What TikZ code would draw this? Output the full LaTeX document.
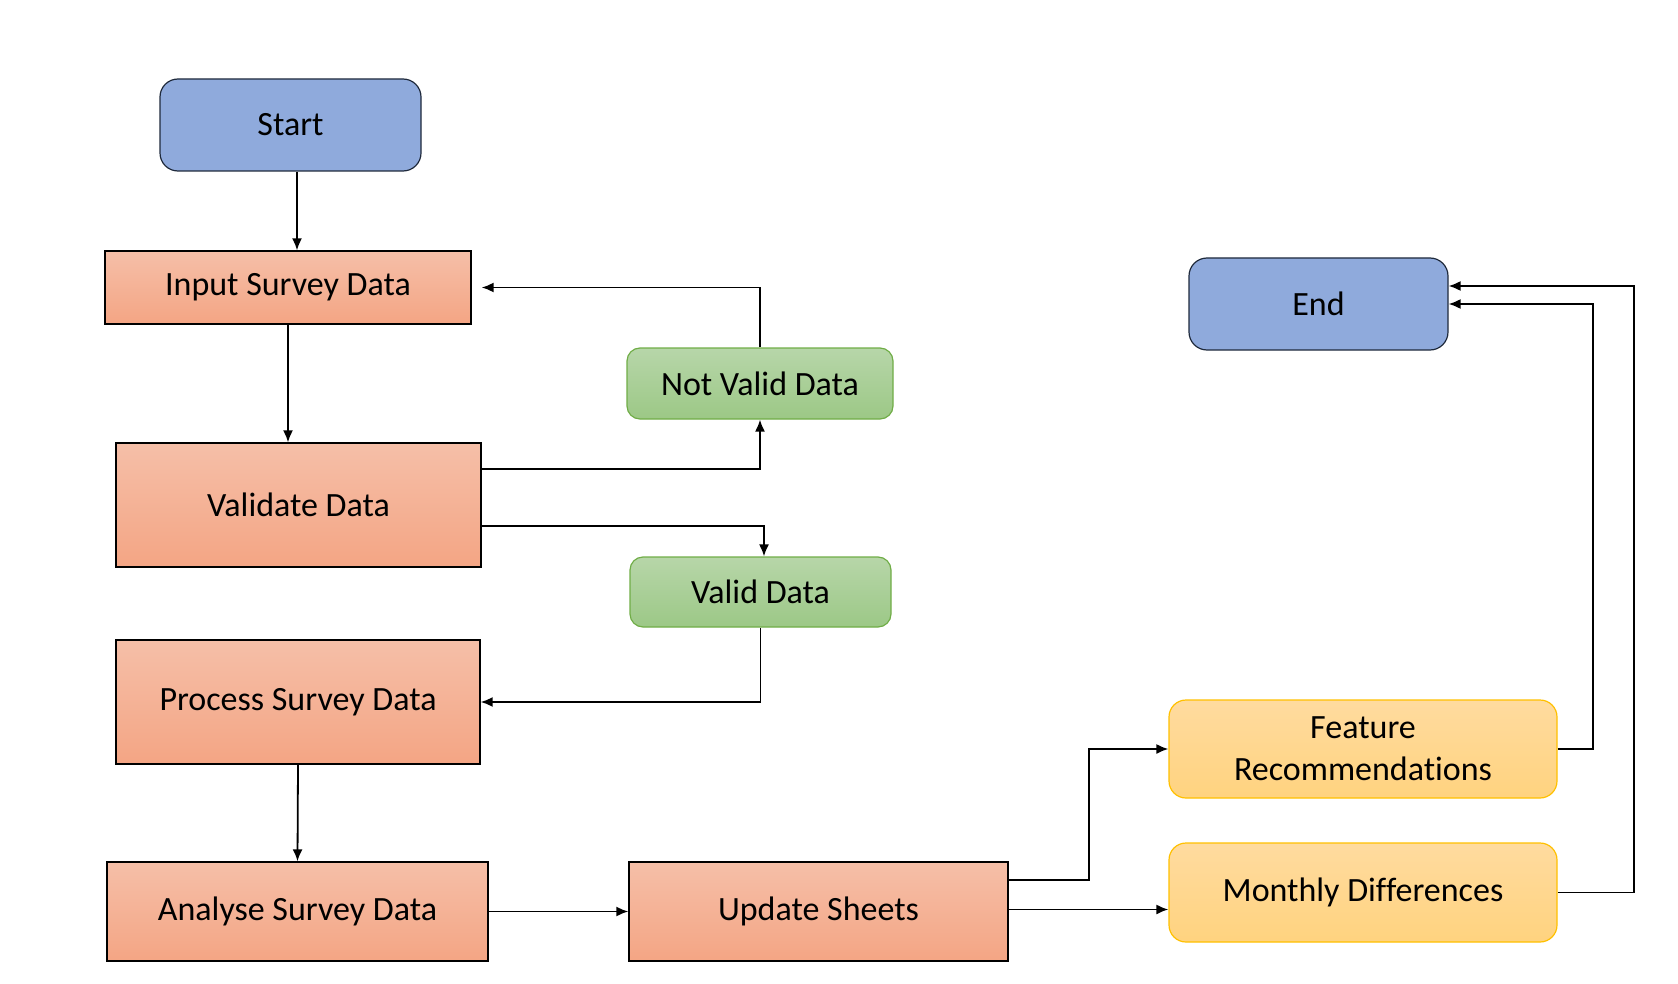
\documentclass[tikz,border=0pt]{standalone}
\usepackage{fontspec}
\setmainfont{Carlito}[Ligatures={NoCommon,NoRare,NoContextual}]
\usetikzlibrary{arrows.meta,calc}
\definecolor{bluefill}{HTML}{8FAADC}
\definecolor{blueline}{HTML}{1F2A3C}
\definecolor{orTop}{HTML}{F5BFA8}
\definecolor{orBot}{HTML}{F4A584}
\definecolor{grTop}{HTML}{B7D6A9}
\definecolor{grBot}{HTML}{9CC886}
\definecolor{grLine}{HTML}{70AD47}
\definecolor{yeTop}{HTML}{FFDB9F}
\definecolor{yeBot}{HTML}{FFD37F}
\definecolor{yeLine}{HTML}{FFC000}
\tikzset{
  box/.style={inner sep=0pt, align=center, font=\fontsize{34}{42}\selectfont},
  termbox/.style={box, rounded corners=18pt, fill=bluefill, draw=blueline, line width=1.2pt},
  procbox/.style={box, top color=orTop, bottom color=orBot, draw=black, line width=1.3pt},
  databox/.style={box, rounded corners=13pt, top color=grTop, bottom color=grBot, draw=grLine, line width=1.2pt},
  outbox/.style={box, rounded corners=17pt, top color=yeTop, bottom color=yeBot, draw=yeLine, line width=1.2pt},
  arr/.style={line width=1.8pt, -{Latex[length=12pt,width=10pt]}}
}
\begin{document}
\begin{tikzpicture}[x=1pt,y=-1pt]
\useasboundingbox (0,0) rectangle (1678,984);
\node[termbox, minimum width=261pt, minimum height=92pt] (start) at (290.5,125) {Start};
\node[procbox, minimum width=366pt, minimum height=73pt] (input) at (288,287.5) {Input Survey Data};
\node[procbox, minimum width=365pt, minimum height=124pt] (validate) at (298.5,505) {Validate Data};
\node[procbox, minimum width=364pt, minimum height=124pt] (process) at (298,702) {Process Survey Data};
\node[procbox, minimum width=381pt, minimum height=99pt] (analyse) at (297.5,911.5) {Analyse Survey Data};
\node[procbox, minimum width=379pt, minimum height=99pt] (update) at (818.5,911.5) {Update Sheets};
\node[databox, minimum width=266pt, minimum height=71pt] (notvalid) at (760,383.5) {Not Valid Data};
\node[databox, minimum width=261pt, minimum height=70pt] (valid) at (760.5,592) {Valid Data};
\node[termbox, minimum width=259pt, minimum height=92pt] (end) at (1318.5,304) {End};
\node[outbox, minimum width=388pt, minimum height=98pt] (feature) at (1363,749) {Feature\\Recommendations};
\node[outbox, minimum width=388pt, minimum height=99pt] (monthly) at (1363,892.5) {Monthly Differences};

\draw[arr] ([xshift=6.5pt]start.south) -- ([xshift=9pt]input.north);
\draw[arr] (input.south) -- (input.south |- validate.north);
\draw[arr] ([yshift=36pt]validate.east) -| (notvalid.south);
\draw[arr, shorten >=10pt] (notvalid.north) |- (input.east);
\draw[arr] ([yshift=-21pt]validate.east) -| ([xshift=3.5pt]valid.north);
\draw[arr] (valid.south) |- (process.east);
\draw[arr] (process.south) -- (analyse.north);
\draw[arr] (analyse.east) -- (update.west);
\draw[arr] ([yshift=31.5pt]update.east) -- ++(80,0) |- (feature.west);
\draw[arr] ([yshift=2pt]update.east) -- ([yshift=2pt]update.east -| monthly.west);
\draw[arr] (feature.east) -- ++(35,0) |- (end.east);
\draw[arr] (monthly.east) -- ++(76,0) |- ([yshift=18pt]end.east);
\end{tikzpicture}
\end{document}
